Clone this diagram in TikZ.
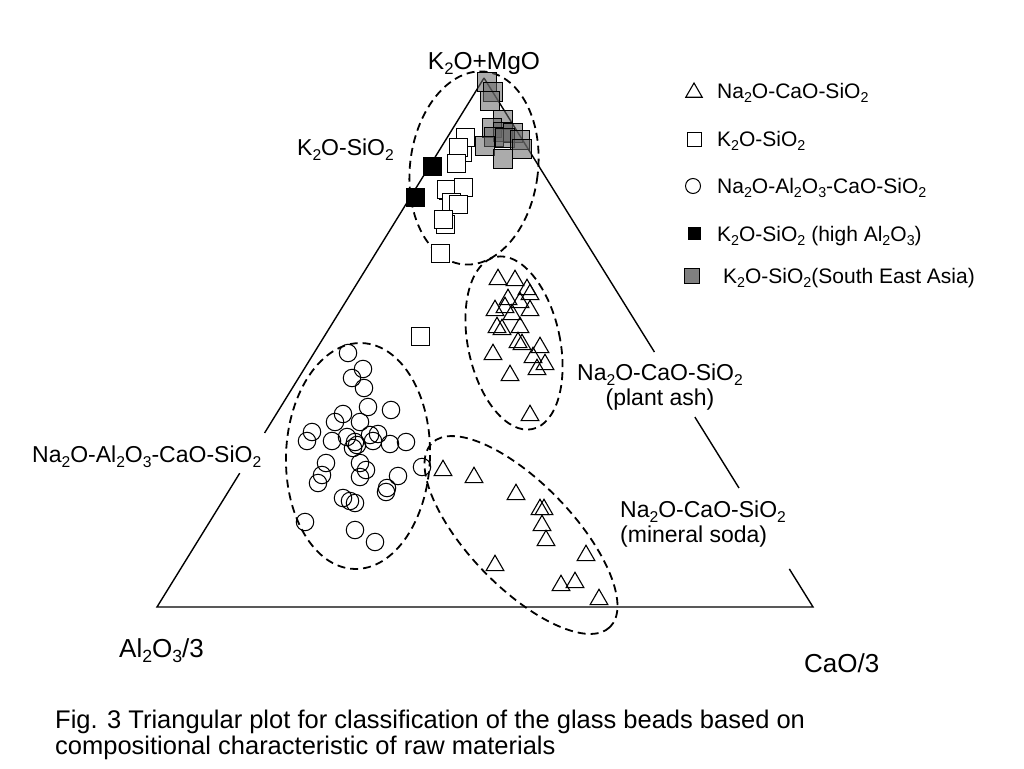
\documentclass[tikz,border=0pt]{standalone}
\usepackage{fontspec}
\setmainfont{Liberation Sans}
\usetikzlibrary{shapes.geometric,calc}
\newcommand{\chemsub}[1]{\raisebox{-0.22em}{\scalebox{0.68}{#1}}}
\begin{document}
\begin{tikzpicture}[x=1pt,y=-1pt,
  tri/.style={regular polygon, regular polygon sides=3, draw, line width=1.1pt, minimum size=20.5pt, inner sep=0pt, yshift=-2.5pt},
  sqm/.style={rectangle, draw, line width=1pt, fill=white, minimum size=18pt, inner sep=0pt},
  bsq/.style={sqm, fill=black},
  gsq/.style={sqm, fill=black!60, fill opacity=0.55, minimum size=19pt},
  circm/.style={circle, draw, line width=1pt, minimum size=17.5pt, inner sep=0pt},
  hull/.style={dash pattern=on 8pt off 5pt, line width=1.8pt},
  edgeline/.style={line width=1.4pt},
  lbl/.style={font=\fontsize{23}{27}\selectfont, inner sep=0pt},
  leg/.style={font=\fontsize{21}{25}\selectfont, inner sep=0pt, anchor=base west},
  captext/.style={font=\fontsize{25.5}{30}\selectfont, inner sep=0pt, anchor=base west}
]
\fill[white] (0,0) rectangle (1024,768);
\useasboundingbox (0,0) rectangle (1024,768);

% triangle frame
\coordinate (A) at (484,78);
\coordinate (B) at (157,607);
\coordinate (C) at (813,607);
\draw[edgeline] (A) -- ($(A)!0.671!(B)$);
\draw[edgeline] ($(A)!0.747!(B)$) -- (B) -- (C) -- ($(A)!0.928!(C)$);
\draw[edgeline] (A) -- ($(A)!0.518!(C)$);
\draw[edgeline] ($(A)!0.641!(C)$) -- ($(A)!0.775!(C)$);

% dashed groupings
\draw[hull, rotate around={-7:(474,168)}] (474,168) ellipse [x radius=64, y radius=97];
\draw[hull, rotate around={12:(514,343)}] (514,343) ellipse [x radius=46, y radius=88];
\draw[hull, rotate around={-2:(358,456)}] (358,456) ellipse [x radius=72, y radius=113];
\draw[hull, rotate around={-46:(521,535)}] (521,535) ellipse [x radius=128, y radius=52];

% white squares (K2O-SiO2)
\foreach \px/\py [count=\i] in {462/152,465/137,458/147,456/163,448/190,446/189,463/187,451/202,458/204,445/224,443/219,440/253,420/336}
  \node[sqm] (ws\i) at (\px,\py) {};
% gray squares (South East Asia)
\foreach \px/\py [count=\i] in {487/82,493/92,490/101,503/120,492/128,503/132,513/133,494/137,505/138,485/146,520/140,522/149,503/159}
  \node[gsq] (gs\i) at (\px,\py) {};
% black squares (high Al2O3)
\node[bsq] (bs1) at (432,166) {};
\node[bsq] (bs2) at (415,197) {};

% triangles, plant ash
\foreach \px/\py [count=\i] in {498/277,515/278,527/287,530/292,508/297,520/300,495/308,505/305,512/312,530/308,497/325,502/327,520/325,518/340,522/342,540/345,533/355,545/362,537/367,493/352,510/373,530/413}
  \node[tri] (tp\i) at (\px,\py) {};
% triangles, mineral soda
\foreach \px/\py [count=\i] in {443/468,474/475,516/492,540/507,544/507,542/523,546/538,495/563,586/553,561/583,575/580,599/597}
  \node[tri] (tm\i) at (\px,\py) {};
% circles
\foreach \px/\py [count=\i] in {348/353,363/369,352/378,364/388,368/407,391/410,343/414,335/422,360/422,312/432,307/441,332/441,347/437,355/442,353/448,357/445,370/435,378/434,373/441,390/444,406/442,360/463,366/470,360/477,326/463,322/475,318/483,398/476,387/488,386/492,343/498,350/501,355/503,305/522,355/530,375/542,422/467}
  \node[circm] (ci\i) at (\px,\py) {};

% axis and group labels
\node[lbl, anchor=base, font=\fontsize{24.5}{28}\selectfont] (apexlbl) at (484,69) {K\chemsub{2}O+MgO};
\node[lbl, anchor=base west] (ksilbl) at (297,155) {K\chemsub{2}O-SiO\chemsub{2}};
\node[lbl, anchor=base west] (nalbl) at (32,462) {Na\chemsub{2}O-Al\chemsub{2}O\chemsub{3}-CaO-SiO\chemsub{2}};
\node[lbl, anchor=base] (pa1) at (660,380) {Na\chemsub{2}O-CaO-SiO\chemsub{2}};
\node[lbl, anchor=base] (pa2) at (660,405) {(plant ash)};
\node[lbl, anchor=base west] (ms1) at (620,517) {Na\chemsub{2}O-CaO-SiO\chemsub{2}};
\node[lbl, anchor=base west] (ms2) at (620,542) {(mineral soda)};
\node[lbl, anchor=base west, font=\fontsize{26}{30}\selectfont] (allbl) at (119,657) {Al\chemsub{2}O\chemsub{3}/3};
\node[lbl, anchor=base west, font=\fontsize{26}{30}\selectfont] (calbl) at (804,672) {CaO/3};

% legend
\node[tri, minimum size=19pt] (lt) at (694,90) {};
\node[sqm, minimum size=14pt] (ls) at (694,139) {};
\node[circm, minimum size=15pt] (lc) at (693,186) {};
\node[sqm, fill=black, minimum size=12pt] (lb) at (694,233) {};
\node[sqm, fill=black!50, minimum size=15pt] (lg) at (692,276) {};
\node[leg] (lt1) at (717,98) {Na\chemsub{2}O-CaO-SiO\chemsub{2}};
\node[leg] (ls1) at (717,146) {K\chemsub{2}O-SiO\chemsub{2}};
\node[leg] (lc1) at (717,193) {Na\chemsub{2}O-Al\chemsub{2}O\chemsub{3}-CaO-SiO\chemsub{2}};
\node[leg] (lb1) at (717,241) {K\chemsub{2}O-SiO\chemsub{2} (high Al\chemsub{2}O\chemsub{3})};
\node[leg] (lg1) at (723,283) {K\chemsub{2}O-SiO\chemsub{2}(South East Asia)};

% caption
\node[captext] (cap1) at (55,728) {Fig. 3 Triangular plot for classification of the glass beads based on};
\node[captext] (cap2) at (55,754) {compositional characteristic of raw materials};
\end{tikzpicture}
\end{document}
